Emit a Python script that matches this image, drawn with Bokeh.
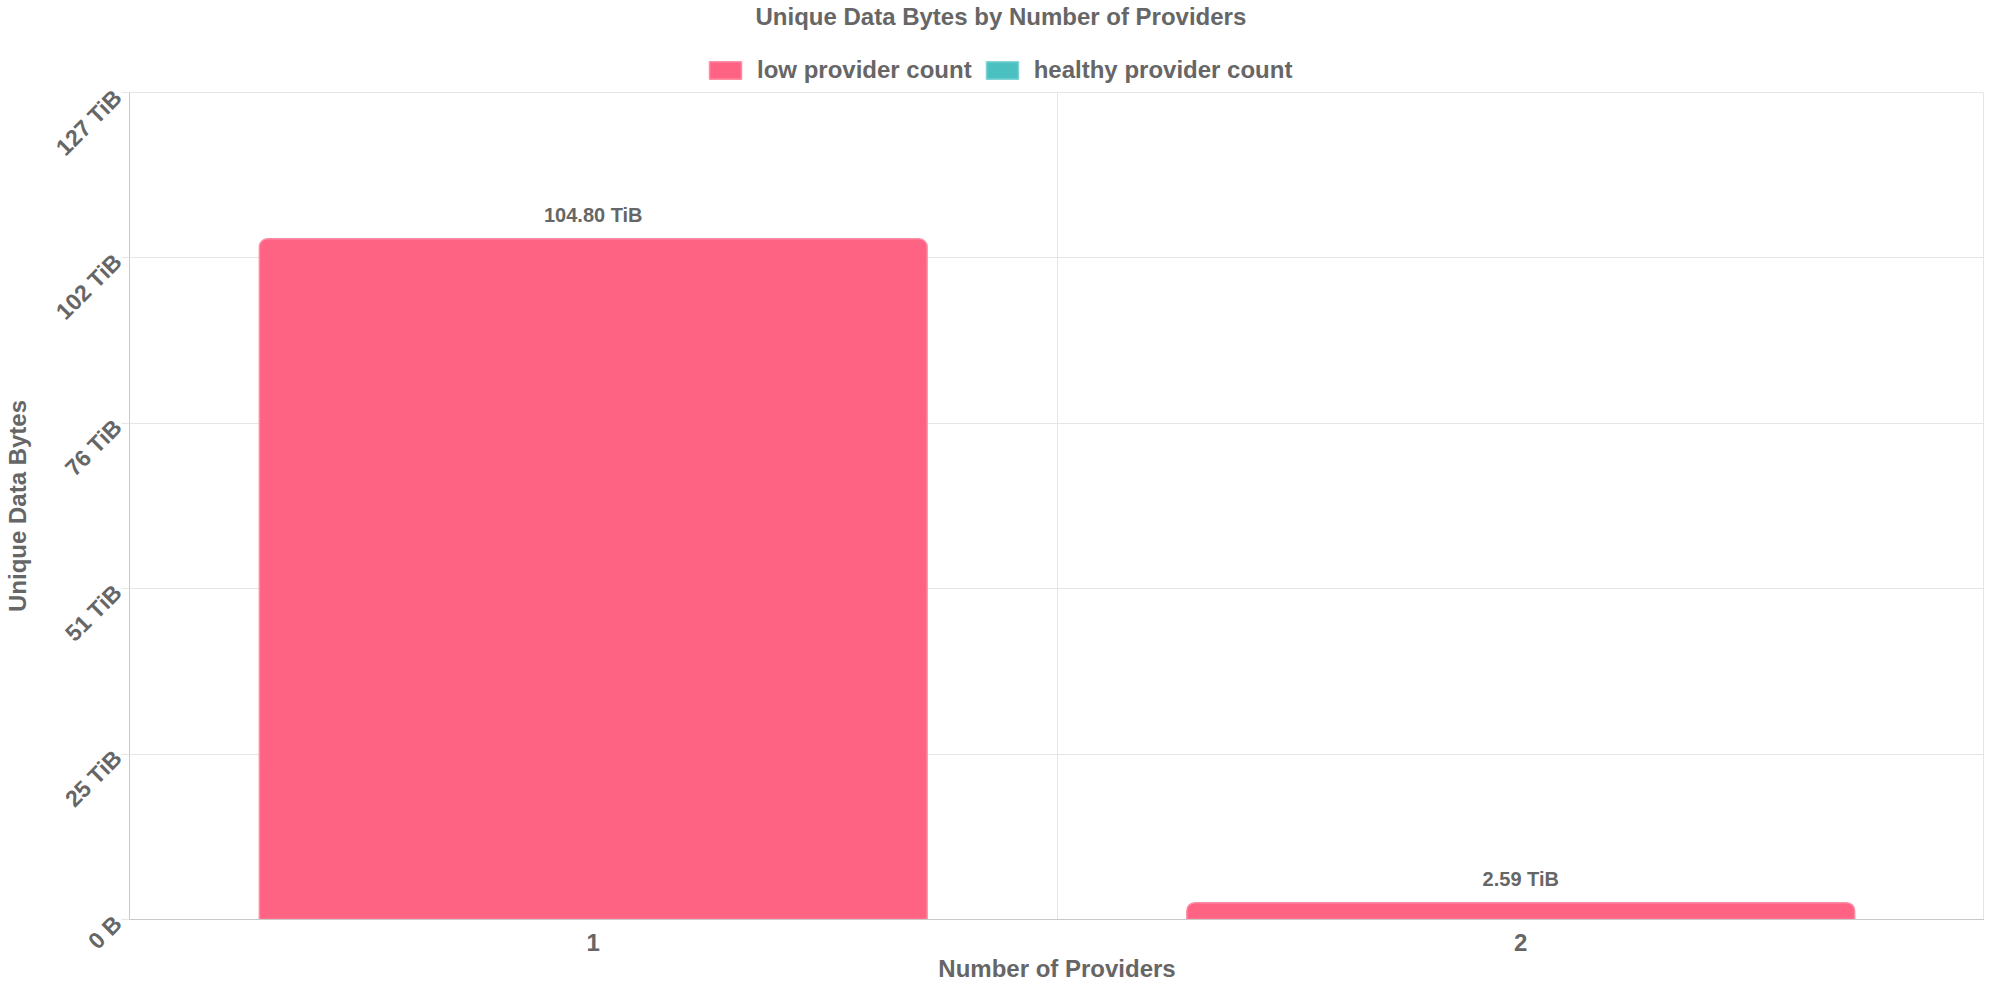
import math
from bokeh.plotting import figure
from bokeh.layouts import column
from bokeh.models import (ColumnDataSource, FactorRange, Range1d, FixedTicker,
                          Legend, LegendItem)
from bokeh.core.properties import value
from bokeh.transform import stack
from bokeh.embed import file_html
from bokeh.resources import INLINE

# ---------------- data ----------------
chart_title = "Unique Data Bytes by Number of Providers"
x_title = "Number of Providers"
y_title = "Unique Data Bytes"
categories = ["1", "2"]
series_names = ["low provider count", "healthy provider count"]
low_provider_tib = [104.80, 2.59]
healthy_provider_tib = [0.0, 0.0]
y_max_tib = 127.329                      # 140 TB expressed in TiB
y_tick_values = [0.0, 25.466, 50.932, 76.397, 101.863, 127.329]
y_tick_labels = ["0 B", "25 TiB", "51 TiB", "76 TiB", "102 TiB", "127 TiB"]

# ---------------- style ----------------
FONT = "Liberation Sans"
TEXT = "#666666"
GRID = "#e5e5e5"
AXIS = "#c9c9c9"
PINK = "#ff6384"
PINK_LINE = "#ff8ea4"
TEAL = "#4bc0c0"
TEAL_LINE = "#7fd3d3"
RADIUS = (8, 8, 0, 0)
W = 1984
HEAD_H = 84
MAIN_H = 900

# ================= header: title + legend =================
head = figure(width=W, height=HEAD_H, x_range=Range1d(0, 1), y_range=Range1d(0, 1),
              output_backend="svg", toolbar_location=None,
              x_axis_location=None, y_axis_location=None,
              min_border=0, min_border_left=0, min_border_right=0,
              min_border_top=6, min_border_bottom=0)
head.grid.visible = False
head.outline_line_color = None
head.background_fill_color = "white"
head.border_fill_color = "white"

head.title.text = chart_title
head.title.text_font = FONT
head.title.text_font_size = "24px"
head.title.text_font_style = "bold"
head.title.text_color = TEXT
head.title.align = "left"
head.title.offset = 626
head.title.standoff = 0

# legend swatches: one off-screen quad per series, styled like the bars
sw_src = ColumnDataSource(dict(l=[2.0], r=[3.0], b=[2.0], t=[3.0]))
sw_low = head.quad(left="l", right="r", bottom="b", top="t", source=sw_src,
                   fill_color=PINK, line_color=PINK_LINE, line_width=1.5)
sw_healthy = head.quad(left="l", right="r", bottom="b", top="t", source=sw_src,
                       fill_color=TEAL, line_color=TEAL_LINE, line_width=1.5)

legend = Legend(items=[LegendItem(label=series_names[0], renderers=[sw_low]),
                       LegendItem(label=series_names[1], renderers=[sw_healthy])],
                orientation="horizontal", location=(576, 0),
                glyph_width=40, glyph_height=22, label_standoff=12, spacing=10,
                padding=0, margin=0, label_text_line_height=1.0,
                label_text_font=FONT, label_text_font_size="24px",
                label_text_font_style="bold", label_text_color=TEXT,
                border_line_alpha=0, background_fill_alpha=0)
head.add_layout(legend, "center")

# ================= main chart =================
src = ColumnDataSource(dict(
    cat=categories,
    low=low_provider_tib,
    healthy=healthy_provider_tib,
    label=[f"{v:.2f} TiB" for v in low_provider_tib],
))

p = figure(width=W, height=MAIN_H,
           x_range=FactorRange(*categories, range_padding=0),
           y_range=Range1d(0, y_max_tib),
           output_backend="svg", toolbar_location=None,
           min_border_left=123, min_border_right=0,
           min_border_top=8, min_border_bottom=0)

p.background_fill_color = "white"
p.border_fill_color = "white"
p.outline_line_color = GRID

# bars (stacked: low + healthy)
r_low = p.vbar(x="cat", bottom=0, top=stack("low"), width=0.72, source=src,
               fill_color=PINK, line_color=PINK_LINE, line_width=1.5,
               border_radius=RADIUS)
r_healthy = p.vbar(x="cat", bottom=stack("low"), top=stack("low", "healthy"),
                   width=0.72, source=src, fill_color=TEAL, line_color=None,
                   border_radius=RADIUS)

# value labels
p.text(x="cat", y="low", text="label", source=src,
       text_align="center", text_baseline="middle", y_offset=-24,
       text_font=value(FONT), text_font_size="20px", text_font_style="bold",
       text_color=TEXT)

# y axis
ya = p.yaxis[0]
ya.ticker = FixedTicker(ticks=y_tick_values)
ya.major_label_overrides = {v: s for v, s in zip(y_tick_values, y_tick_labels)}
ya.major_label_orientation = math.pi / 4
ya.major_label_text_font = FONT
ya.major_label_text_font_size = "23px"
ya.major_label_text_font_style = "bold"
ya.major_label_text_color = TEXT
ya.axis_line_color = AXIS
ya.major_tick_line_color = GRID
ya.major_tick_out = 8
ya.major_tick_in = 0
ya.minor_tick_line_color = None
ya.axis_label = y_title
ya.axis_label_text_font = FONT
ya.axis_label_text_font_size = "24px"
ya.axis_label_text_font_style = "bold"
ya.axis_label_text_color = TEXT
ya.axis_label_standoff = 8
ya.major_label_standoff = 4

# x axis
xa = p.xaxis[0]
xa.major_label_text_font = FONT
xa.major_label_text_font_size = "24px"
xa.major_label_text_font_style = "bold"
xa.major_label_text_color = TEXT
xa.major_label_text_line_height = 1.0
xa.axis_line_color = AXIS
xa.major_tick_line_color = None
xa.major_tick_out = 0
xa.major_tick_in = 0
xa.major_label_standoff = 14
xa.axis_label = x_title
xa.axis_label_text_font = FONT
xa.axis_label_text_font_size = "24px"
xa.axis_label_text_font_style = "bold"
xa.axis_label_text_color = TEXT
xa.axis_label_text_line_height = 1.0
xa.axis_label_standoff = 1

# grids
p.ygrid.grid_line_color = GRID
p.xgrid.ticker = FixedTicker(ticks=[1.0])
p.xgrid.grid_line_color = GRID

layout = column(head, p, spacing=0)
open("out.html", "w").write(file_html(layout, INLINE))
